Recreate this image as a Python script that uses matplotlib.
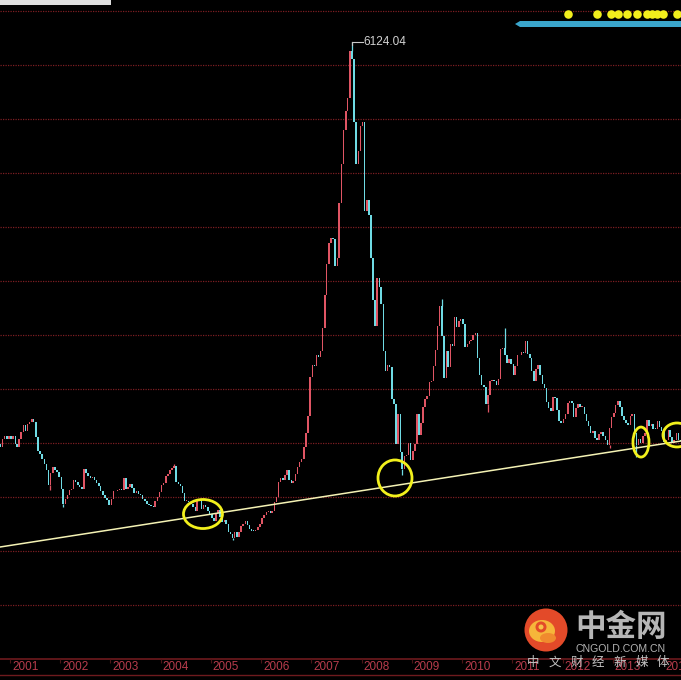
import numpy as np
import pandas as pd
import matplotlib
matplotlib.use("Agg")
import matplotlib.pyplot as plt
from matplotlib.patches import Ellipse, Circle, Polygon, Rectangle

# ---------------- data (semi-monthly closes of the index) ----------------
start_date = "2000-10-15"
closes_2000 = [1961, 2040, 2070, 2035, 2073]
closes_2001 = [2040, 2065, 1985, 1960, 2040, 2112, 2180, 2119, 2195, 2214, 2240, 2218,
               2060, 1920, 1880, 1834, 1780, 1724, 1560, 1690, 1750, 1720, 1700, 1646]
closes_2002 = [1520, 1367, 1420, 1462, 1510, 1525, 1620, 1593, 1560, 1541, 1520, 1732,
               1690, 1653, 1640, 1650, 1620, 1581, 1550, 1507, 1460, 1429, 1410, 1357]
closes_2003 = [1420, 1499, 1500, 1511, 1520, 1510, 1640, 1521, 1540, 1576, 1530, 1487,
               1500, 1476, 1460, 1421, 1400, 1367, 1360, 1349, 1340, 1397, 1440, 1497]
closes_2004 = [1560, 1590, 1660, 1675, 1720, 1741, 1760, 1595, 1580, 1555, 1480, 1399,
               1400, 1386, 1370, 1342, 1300, 1396, 1420, 1320, 1360, 1341, 1300, 1266]
closes_2005 = [1230, 1191, 1280, 1306, 1240, 1181, 1200, 1159, 1080, 1060, 1020, 1080,
               1030, 1083, 1140, 1163, 1190, 1155, 1110, 1092, 1090, 1099, 1130, 1161]
closes_2006 = [1220, 1258, 1290, 1299, 1280, 1298, 1390, 1440, 1600, 1641, 1620, 1672,
               1720, 1612, 1590, 1601, 1680, 1752, 1800, 1837, 1960, 2099, 2280, 2675]
closes_2007 = [2800, 2786, 2900, 2881, 2950, 3183, 3520, 3841, 4060, 4109, 4100, 3820,
               3900, 4471, 4870, 5218, 5420, 5552, 6030, 5954, 5300, 4871, 5000, 5261]
closes_2008 = [5300, 4383, 4500, 4348, 3900, 3472, 3200, 3693, 3600, 3433, 2940, 2736,
               2800, 2775, 2450, 2397, 1990, 2293, 1900, 1728, 1860, 1871, 2000, 1821]
closes_2009 = [1910, 1990, 2300, 2082, 2200, 2373, 2450, 2477, 2630, 2632, 2790, 2959,
               3200, 3412, 3100, 2667, 2950, 2779, 3020, 2995, 3300, 3195, 3250, 3277]
closes_2010 = [3220, 2989, 3020, 3051, 3060, 3109, 3130, 2870, 2700, 2592, 2570, 2398,
               2490, 2638, 2640, 2638, 2590, 2656, 2970, 2979, 2900, 2820, 2860, 2808]
closes_2011 = [2700, 2790, 2900, 2905, 2930, 2928, 3050, 2911, 2870, 2743, 2640, 2762,
               2800, 2701, 2610, 2567, 2420, 2359, 2330, 2468, 2460, 2333, 2220, 2199]
closes_2012 = [2240, 2292, 2410, 2428, 2410, 2262, 2360, 2397, 2370, 2373, 2300, 2225,
               2170, 2103, 2120, 2047, 2030, 2086, 2110, 2068, 2030, 1980, 2150, 2269]
closes_2013 = [2310, 2385, 2430, 2365, 2280, 2237, 2200, 2178, 2280, 2301, 2100, 1979,
               2040, 1993, 2070, 2098, 2230, 2175, 2190, 2141, 2140, 2220, 2160, 2116]
closes_2014 = [2010, 2033, 2130, 2056, 2000, 2033, 2100, 2026, 2020]
open_first = 1990

# extreme wicks (date, value)
extreme_dates = ["2001-06-14", "2001-10-22", "2002-01-29", "2004-04-07", "2005-06-06",
                 "2007-10-16", "2008-10-28", "2009-08-04", "2010-07-02", "2010-11-08",
                 "2012-12-04", "2013-06-25"]
extreme_values = [2245, 1514, 1339, 1783, 998, 6124.04, 1664, 3478, 2319, 3186, 1949, 1849]

peak_date = "2007-10-16"
peak_value = 6124.04

years = list(range(2001, 2015))
year_labels = [str(y) for y in years]
grid_levels = [329, 885, 1441, 1997, 2553, 3109, 3665, 4221, 4777, 5333, 5889, 6445]

trend_x = [2000.80, 2014.36]
trend_y = [926, 2018]

circle_x = [2004.842, 2008.665, 2013.562, 2014.279]
circle_y = [1266, 1637, 2007, 2080]
circle_w = [0.776, 0.677, 0.319, 0.557]
circle_h = [299, 371, 309, 247]

# ---------------- helpers ----------------
def frac_year(ts):
    ts = pd.Timestamp(ts)
    return ts.year + (ts.dayofyear - 1) / 365.25

closes = np.array(closes_2000 + closes_2001 + closes_2002 + closes_2003 + closes_2004 +
                  closes_2005 + closes_2006 + closes_2007 + closes_2008 + closes_2009 +
                  closes_2010 + closes_2011 + closes_2012 + closes_2013 + closes_2014, float)
opens = np.concatenate([[open_first], closes[:-1]])
dates = pd.date_range(start_date, periods=len(closes), freq="SMS")
tx = np.array([frac_year(d) for d in dates]) + 7.5 / 365.25

XMIN, XMAX = 2000.801, 2014.359
YMIN, YMAX = -217, 6560

UP = "#e05564"
DOWN = "#6fdbe4"

fig = plt.figure(figsize=(6.81, 6.80), dpi=100, facecolor="black")
ax = fig.add_axes([0, 22 / 680, 1, 658 / 680])
ax.set_facecolor("black")
ax.set_xlim(XMIN, XMAX)
ax.set_ylim(YMIN, YMAX)
for s in ax.spines.values():
    s.set_visible(False)
ax.set_xticks([])
ax.set_yticks([])

# grid
ax.hlines(grid_levels, XMIN, XMAX, colors="#7c1e22", linestyles=(0, (1, 1)), lw=0.9, zorder=1)

# candles
up = closes >= opens
cols = np.where(up, UP, DOWN)
bw = 1.5 / 50.23
bottoms = np.minimum(opens, closes)
heights = np.maximum(np.abs(closes - opens), 8)
ax.bar(tx, heights, bottom=bottoms, width=bw, color=cols, linewidth=0, zorder=3)

# wicks at extremes
for d, v in zip(extreme_dates, extreme_values):
    i = np.searchsorted(dates, pd.Timestamp(d), side="right") - 1
    top = max(opens[i], closes[i]); bot = min(opens[i], closes[i])
    lo, hi = (v, bot) if v < bot else (top, v)
    ax.vlines(tx[i], lo, hi, colors=cols[i], lw=0.9, zorder=3)

# trend line
ax.plot(trend_x, trend_y, color="#f4f2b4", lw=1.1, zorder=4)

# circles
for cx, cy, w, h in zip(circle_x, circle_y, circle_w, circle_h):
    ax.add_patch(Ellipse((cx, cy), w, h, fill=False, ec="#f2f01c", lw=2.0, zorder=5,
                         clip_on=False))

# peak label
pi = np.searchsorted(dates, pd.Timestamp(peak_date), side="right") - 1
px0 = tx[pi]
ax.plot([px0, px0 + 11 / 50.23], [peak_value, peak_value], color="#c8c8c8", lw=0.8, zorder=6)
ax.plot([px0, px0], [peak_value, peak_value - 25], color="#c8c8c8", lw=0.8, zorder=6)
ax.text(px0 + 12 / 50.23, peak_value, f"{peak_value:.2f}", color="#d2d2d2",
        fontsize=8.5, family="Liberation Sans", va="center", ha="left", zorder=6)

# ---------------- bottom strip with years ----------------
sax = fig.add_axes([0, 0, 1, 22 / 680])
sax.set_facecolor("black")
sax.set_xlim(XMIN, XMAX)
sax.set_ylim(0, 22)
for s in sax.spines.values():
    s.set_visible(False)
sax.set_xticks([]); sax.set_yticks([])
sax.axhline(21.3, color="#6e1a1e", lw=1.2)
sax.axhline(5.0, color="#6e1a1e", lw=1.0)
for y, lab in zip(years, year_labels):
    sax.vlines(y, 17, 21, colors="#4a1416", lw=0.8)
    sax.text(y + 2 / 50.23, 13.5, lab, color="#b83c4c", fontsize=8.5,
             family="Liberation Sans", va="center", ha="left")

# ---------------- overlay decorations in pixel space ----------------
ov = fig.add_axes([0, 0, 1, 1])
ov.set_xlim(0, 681)
ov.set_ylim(680, 0)
ov.axis("off")
ov.patch.set_alpha(0)

# white bar top-left
ov.add_patch(Rectangle((0, 0), 111, 5, fc="#dedede", ec="none"))

# top-right markers
dot_x = [568, 597, 611, 618, 627, 637, 647, 652, 657, 663, 677]
ov.scatter(dot_x, [14] * len(dot_x), s=38, c="#f2ee1c", linewidths=0, zorder=5)
ov.add_patch(Polygon([(515, 24), (520, 21), (681, 21), (681, 27), (520, 27)],
                     closed=True, fc="#3aa6cc", ec="none"))

# logo
ov.add_patch(Circle((546, 630), 21.5, fc="#e34a29", ec="none", zorder=6))
ov.add_patch(Ellipse((542, 631), 26, 22, fc="#f6b53a", ec="none", zorder=7))
ov.add_patch(Ellipse((548, 638), 16, 10, fc="#f08a2e", ec="none", zorder=7))
ov.add_patch(Circle((541, 627), 5.5, fc="#e34a29", ec="none", zorder=8))
ov.add_patch(Circle((541, 627), 2.5, fc="#f6c24a", ec="none", zorder=9))
ov.text(621, 627, "中金网", color="#b6b6b6", fontsize=22, weight="bold",
        family=["Noto Sans CJK SC", "DejaVu Sans"], ha="center", va="center", zorder=8)
ov.text(621, 649.5, "CNGOLD.COM.CN", color="#b4b4b4", fontsize=7.6,
        family="Liberation Sans", ha="center", va="center", zorder=8)
for i, ch in enumerate("中文财经新媒体"):
    ov.text(533 + i * 21.7, 662.5, ch, color="#c2c2c2", fontsize=9,
            family=["Noto Sans CJK SC", "DejaVu Sans"], ha="center", va="center", zorder=8)

fig.savefig("out.png", dpi=100, facecolor="black")
